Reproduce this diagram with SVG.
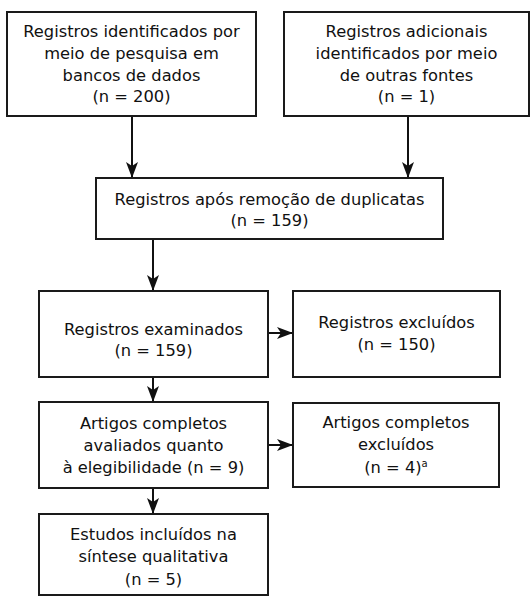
<svg xmlns="http://www.w3.org/2000/svg" width="531" height="596" viewBox="0 0 531 596">
<style>
.box{fill:#fff;stroke:#1a1a1a;stroke-width:2}
.t{font-family:"DejaVu Sans",sans-serif;font-size:16.3px;fill:#111;text-anchor:middle}
.c{fill:none;stroke:#111;stroke-width:2}
</style>
<defs>
<marker id="ah" viewBox="0 0 16 12" refX="16" refY="6" markerWidth="16" markerHeight="12" markerUnits="userSpaceOnUse" orient="auto">
<path d="M0,0 L16,6 L0,12 L4,6 z" fill="#111"/>
</marker>
</defs>
<rect width="531" height="596" fill="#fff"/>
<g id="connectors">
<line class="c" x1="132" y1="116" x2="132" y2="178" marker-end="url(#ah)"/>
<line class="c" x1="408" y1="116" x2="408" y2="178" marker-end="url(#ah)"/>
<line class="c" x1="153" y1="239" x2="153" y2="291" marker-end="url(#ah)"/>
<line class="c" x1="268" y1="333" x2="293" y2="333" marker-end="url(#ah)"/>
<line class="c" x1="153" y1="377" x2="153" y2="402" marker-end="url(#ah)"/>
<line class="c" x1="268" y1="445" x2="293" y2="445" marker-end="url(#ah)"/>
<line class="c" x1="153" y1="488" x2="153" y2="514" marker-end="url(#ah)"/>
</g>
<g id="n1">
<rect class="box" x="7" y="12" width="249" height="104"/>
<text class="t" x="131.5" y="37">Registros identificados por</text>
<text class="t" x="131.5" y="59">meio de pesquisa em</text>
<text class="t" x="131.5" y="81">bancos de dados</text>
<text class="t" x="131.5" y="102">(n = 200)</text>
</g>
<g id="n2">
<rect class="box" x="284" y="12" width="245" height="104"/>
<text class="t" x="406.5" y="37">Registros adicionais</text>
<text class="t" x="406.5" y="59">identificados por meio</text>
<text class="t" x="406.5" y="81">de outras fontes</text>
<text class="t" x="406.5" y="102">(n = 1)</text>
</g>
<g id="n3">
<rect class="box" x="96" y="178" width="347" height="61"/>
<text class="t" x="269.5" y="205">Registros após remoção de duplicatas</text>
<text class="t" x="269.5" y="226">(n = 159)</text>
</g>
<g id="n4">
<rect class="box" x="39" y="291" width="229" height="86"/>
<text class="t" x="153.5" y="335">Registros examinados</text>
<text class="t" x="153.5" y="356">(n = 159)</text>
</g>
<g id="n5">
<rect class="box" x="293" y="291" width="207" height="86"/>
<text class="t" x="396.5" y="328">Registros excluídos</text>
<text class="t" x="396.5" y="350">(n = 150)</text>
</g>
<g id="n6">
<rect class="box" x="39" y="402" width="229" height="86"/>
<text class="t" x="153.5" y="429">Artigos completos</text>
<text class="t" x="153.5" y="451">avaliados quanto</text>
<text class="t" x="153.5" y="473">à elegibilidade (n = 9)</text>
</g>
<g id="n7">
<rect class="box" x="293" y="403" width="206" height="84"/>
<text class="t" x="396" y="428">Artigos completos</text>
<text class="t" x="396" y="450">excluídos</text>
<text class="t" x="396" y="473">(n = 4)<tspan font-size="10" dy="-6">a</tspan></text>
</g>
<g id="n8">
<rect class="box" x="39" y="514" width="229" height="81"/>
<text class="t" x="153.5" y="540">Estudos incluídos na</text>
<text class="t" x="153.5" y="562">síntese qualitativa</text>
<text class="t" x="153.5" y="585">(n = 5)</text>
</g>
</svg>
